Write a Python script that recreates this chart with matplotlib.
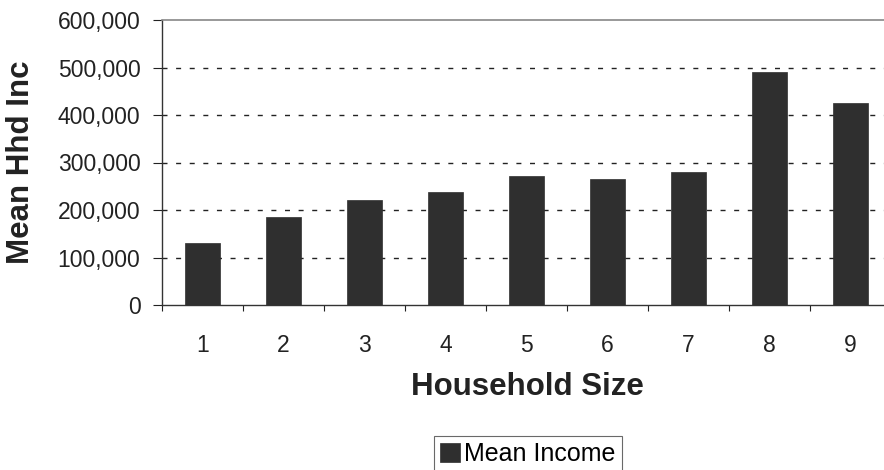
import matplotlib
matplotlib.use("Agg")
import matplotlib.pyplot as plt
from matplotlib.ticker import FuncFormatter, FixedLocator

plt.rcParams['font.family'] = ['Liberation Sans', 'DejaVu Sans']

categories = ['1', '2', '3', '4', '5', '6', '7', '8', '9']
mean_income = [130000, 185000, 221000, 238000, 272000, 265000, 280000, 490000, 425000]
series_name = 'Mean Income'
y_ticks = [0, 100000, 200000, 300000, 400000, 500000, 600000]

W, H = 884, 470
fig = plt.figure(figsize=(W / 100, H / 100), dpi=100)
ax = fig.add_axes([162 / W, 1 - 305 / H, 729 / W, 285 / H])

x = list(range(1, len(categories) + 1))
bars = ax.bar(x, mean_income, width=0.43, color='#2f2f2f', edgecolor='#2f2f2f',
              linewidth=0.5, label=series_name, zorder=3)

ax.set_xlim(0.5, len(categories) + 0.5)
ax.set_ylim(0, 600000)
ax.set_yticks(y_ticks)
ax.yaxis.set_major_formatter(FuncFormatter(lambda v, p: f"{int(v):,}"))
ax.set_xticks(x)
ax.set_xticklabels(categories)
ax.xaxis.set_minor_locator(FixedLocator([i + 0.5 for i in range(0, len(categories) + 1)]))

ax.tick_params(axis='y', direction='out', length=6.5, width=0.8, pad=9,
               labelsize=16.5, colors='#222222')
ax.tick_params(axis='x', which='major', length=0, pad=21, labelsize=16.5, colors='#222222')
ax.tick_params(axis='x', which='minor', length=4, width=0.8, color='#222222')

for v in y_ticks[1:-1]:
    ax.axhline(v, color='#222222', lw=1.0, linestyle=(0, (3.6, 6.2)), zorder=1)

ax.spines['right'].set_visible(False)
ax.spines['top'].set_color('#888888')
ax.spines['top'].set_linewidth(1.2)
ax.spines['left'].set_color('#333333')
ax.spines['left'].set_linewidth(1.0)
ax.spines['bottom'].set_color('#333333')
ax.spines['bottom'].set_linewidth(1.0)

fig.text(527 / W, 1 - 395 / H, 'Household Size', ha='center', va='baseline',
         fontsize=22.5, fontweight='bold', color='#222222')
fig.text(21.5 / W, 1 - 162 / H, 'Mean Hhd Inc', ha='center', va='center',
         rotation=90, fontsize=22.5, fontweight='bold', color='#222222')

leg = fig.legend(handles=[bars], labels=[series_name], loc='upper left',
                 bbox_to_anchor=(434 / W, 1 - 436 / H), fontsize=18,
                 frameon=True, fancybox=False, borderpad=0.25,
                 handlelength=0.8, handleheight=0.8, handletextpad=0.15,
                 borderaxespad=0)
leg.get_frame().set_edgecolor('#444444')
leg.get_frame().set_linewidth(0.8)

fig.savefig('out.png', dpi=100)
